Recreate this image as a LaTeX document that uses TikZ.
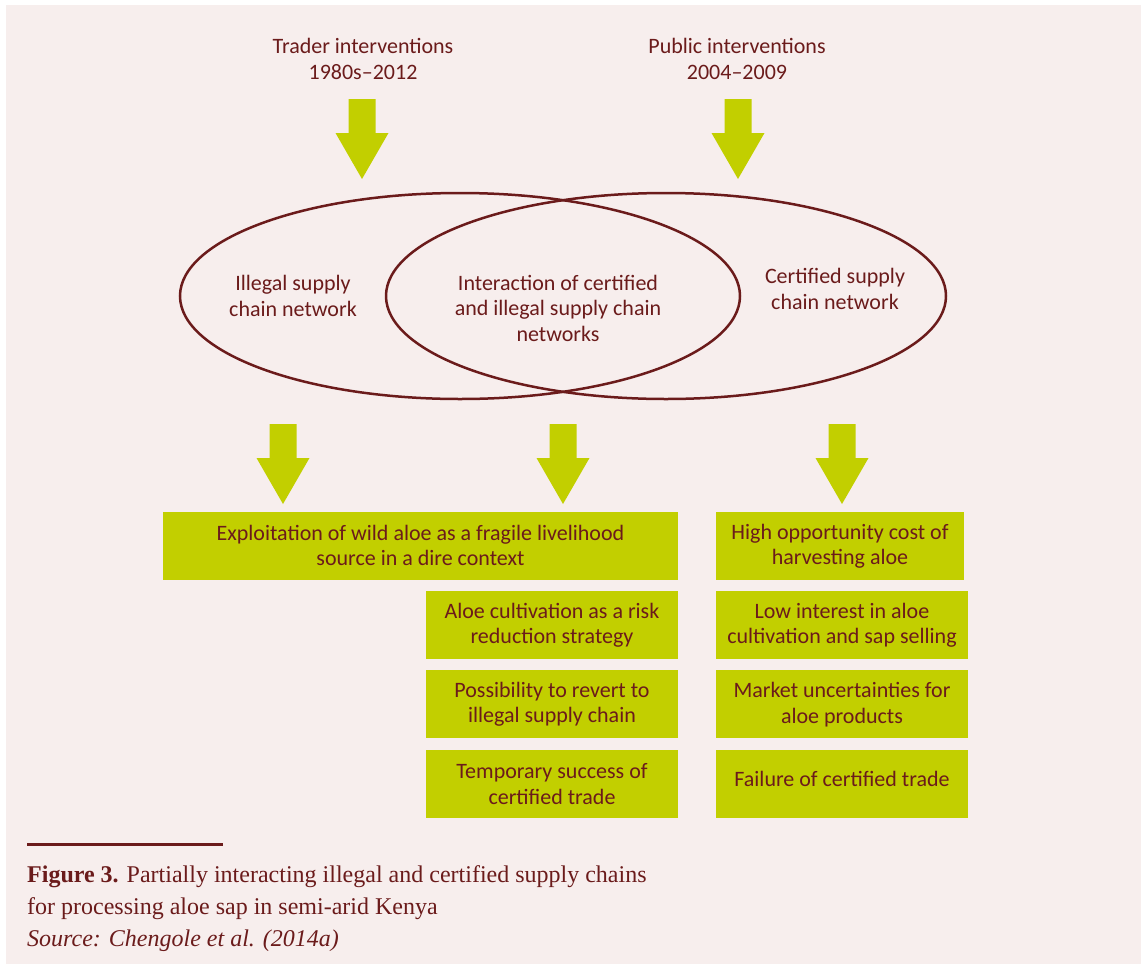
\documentclass[tikz,border=0pt]{standalone}
\usepackage{fontspec}
\setmainfont{Liberation Serif}
\newfontfamily\diagfont[Ligatures=TeX]{Carlito}
\usetikzlibrary{positioning,shapes.geometric}
\definecolor{bgpink}{HTML}{F7EEED}
\definecolor{aloegreen}{HTML}{C2CF00}
\definecolor{darkred}{HTML}{6B1B1B}

\begin{document}
\begin{tikzpicture}[x=1pt,y=-1pt,
    lbl/.style={align=center, text=darkred, font=\diagfont\fontsize{22}{25.5}\selectfont},
    greenbox/.style={lbl, fill=aloegreen, inner sep=0pt, minimum height=68pt},
    ring/.style={draw=darkred, line width=2.5pt, ellipse, minimum width=560pt, minimum height=206pt},
    dnarrow/.pic={\fill[aloegreen] (-13.5,0) -- (13.5,0) -- (13.5,34) -- (26.5,34) -- (0,80) -- (-26.5,34) -- (-13.5,34) -- cycle;}
  ]
  \useasboundingbox (0,0) rectangle (1141,964);
  \fill[white] (0,0) rectangle (1141,964);
  \fill[bgpink] (6,5) rectangle (1141,964);

  % sources of intervention
  \node[lbl] (trader) at (363,59) {Trader interventions\\1980s–2012};
  \node[lbl] (public) at (737,59) {Public interventions\\2004–2009};
  \pic at (362,99) {dnarrow};
  \pic at (738,99) {dnarrow};

  % the two networks
  \node[ring] (illegal) at (460,296) {};
  \node[ring] (certified) at (666,296) {};
  \node[lbl] (illegaltxt) at (293,296) {Illegal supply\\chain network};
  \node[lbl] (overlaptxt) at (558,308) {Interaction of certified\\and illegal supply chain\\networks};
  \node[lbl] (certtxt) at (835,289) {Certified supply\\chain network};

  \pic at (283,424) {dnarrow};
  \pic at (563,424) {dnarrow};
  \pic at (842,424) {dnarrow};

  % outcomes
  \node[greenbox, minimum width=515pt] (wild) at (420.5,545.5) {Exploitation of wild aloe as a fragile livelihood\\source in a dire context};
  \node[greenbox, minimum width=252pt] (mid1) at (552,625) {Aloe cultivation as a risk\\reduction strategy};
  \node[greenbox, minimum width=252pt, below=11pt of mid1] (mid2) {Possibility to revert to\\illegal supply chain};
  \node[greenbox, minimum width=252pt, below=11pt of mid2] (mid3) {Temporary success of\\certified trade};
  \node[greenbox, minimum width=248pt] (right1) at (840,546) {High opportunity cost of\\harvesting aloe};
  \node[greenbox, minimum width=252pt] (right2) at (842,625) {Low interest in aloe\\cultivation and sap selling};
  \node[greenbox, minimum width=252pt, below=11pt of right2] (right3) {Market uncertainties for\\aloe products};
  \node[greenbox, minimum width=252pt, below=11pt of right3] (right4) {\raisebox{5pt}[\height][\depth]{Failure of certified trade}};

  % caption
  \draw[darkred, line width=3pt] (27,844) -- (223,844);
  \node[anchor=north west, align=left, inner sep=0pt, text=darkred, font=\fontsize{24}{32}\selectfont] (caption) at (27,865)
    {\textbf{Figure 3.} Partially interacting illegal and certified supply chains\\
     for processing aloe sap in semi-arid Kenya\\
     \textit{Source: Chengole et al. (2014a)}};
\end{tikzpicture}
\end{document}
